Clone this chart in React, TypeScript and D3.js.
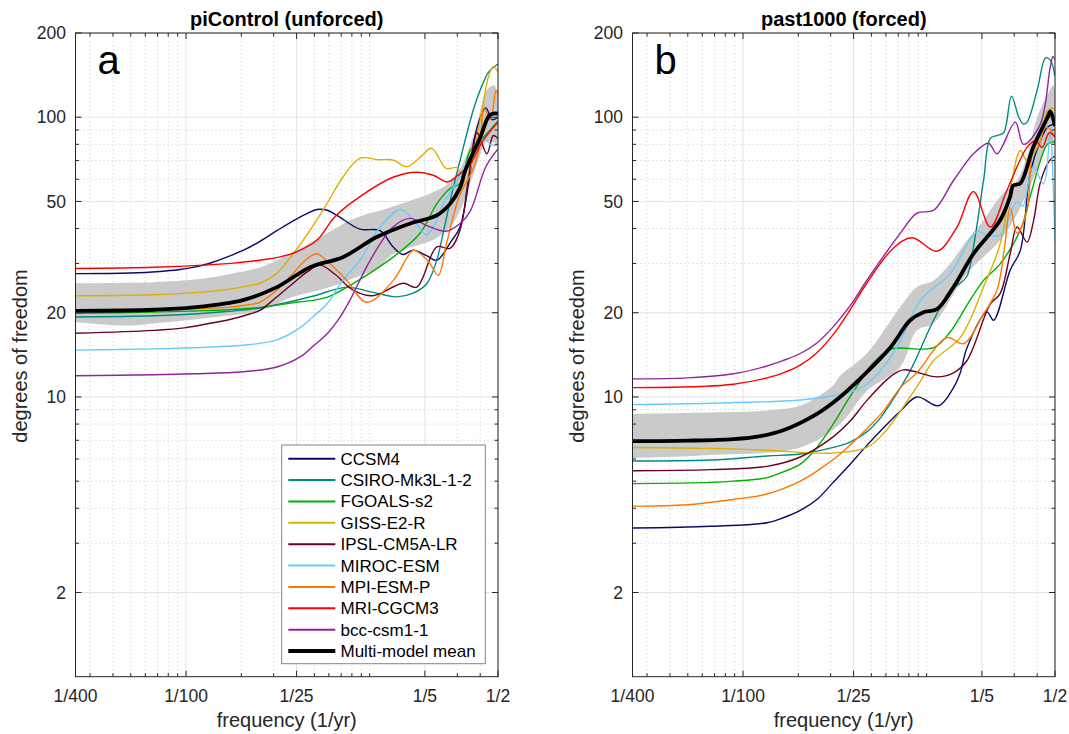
import React from "react";
import * as d3 from "d3";

type P = [number, number]; // [period in years, degrees of freedom]

const models = ["CCSM4", "CSIRO-Mk3L-1-2", "FGOALS-s2", "GISS-E2-R", "IPSL-CM5A-LR", "MIROC-ESM", "MPI-ESM-P", "MRI-CGCM3", "bcc-csm1-1"];
const modelColors = ["#0b0b6e", "#008b80", "#00b000", "#dcb000", "#6e0022", "#66ccff", "#ff7700", "#ff0000", "#9422a0"];

const xTickPeriods = [400, 100, 25, 5, 2];
const xTickLabels = ["1/400", "1/100", "1/25", "1/5", "1/2"];
const yTicks = [2, 10, 20, 50, 100, 200];

// ---- panel a: piControl ----
const ccsm4A: P[] = [[400,27.6],[200,27.75],[139,28.1],[110,28.5],[90,29.1],[75,30],[60,31.6],[48,33.6],[39.6,36],[32,39.3],[26.1,42.6],[22,45.2],[19.4,46.8],[17,46.5],[15,44.5],[11.3,39.8],[8.77,39.3],[7.46,34.4],[6.58,32.3],[5.8,33.5],[4.9,32],[4.31,30.8],[3.6,36],[3.22,40.5],[2.85,62],[2.6,92],[2.33,108],[2.15,98],[2,100]];
const csiroA: P[] = [[400,19.3],[150,19.5],[90,19.8],[60,20.2],[39.6,20.8],[28,21.8],[20,23],[13.3,24.7],[10,23.8],[7.12,22.8],[5.8,23.5],[4.89,25.4],[4.3,31],[3.98,38.5],[3.6,52],[3.22,70],[2.74,105],[2.5,125],[2.25,145],[2,155]];
const fgoalsA: P[] = [[400,19.9],[150,20.1],[90,20.3],[60,20.5],[39.6,20.9],[25,21.8],[17.1,22.7],[12,25.7],[7.46,31.6],[5.33,38.4],[4.31,49],[3.65,55.6],[3.22,58],[2.84,76],[2.43,84],[2,97]];
const gissA: P[] = [[400,23],[150,23.2],[90,23.6],[60,24.2],[45,25],[39.6,25.5],[32,27.7],[26.1,32.5],[21.1,39.5],[17.1,49],[14,61],[11.3,71.3],[9,70.5],[7.46,70.3],[6.28,66.5],[5.3,72],[4.6,77.4],[3.83,65.6],[3.36,66],[3.01,58.7],[2.7,75],[2.45,105],[2.25,140],[2.12,152],[2,145]];
const ipslA: P[] = [[400,16.9],[150,17.3],[100,17.7],[75,18.3],[60,18.8],[45,19.8],[39.6,20.4],[32,22.8],[26.1,25.5],[21.9,28],[18.6,29.6],[15.5,27.5],[12.3,24.1],[9.59,23],[6.58,25.5],[5.54,24.7],[4.31,34.4],[3.65,34],[3.22,39.5],[2.9,60],[2.6,88],[2.3,74],[2.12,86],[2,84]];
const mirocA: P[] = [[400,14.7],[150,14.85],[92,15.0],[49,15.3],[32,16.0],[23.9,17.7],[20.3,19.4],[17.1,21.5],[14,26.1],[11.3,30.8],[8.77,40.5],[6.82,46.7],[5.8,43],[4.89,38],[4.3,43],[3.98,49],[3.4,58],[2.84,72],[2.38,84],[2.2,80],[2,79]];
const mpiA: P[] = [[400,20.4],[150,20.5],[90,20.7],[60,20.9],[45,21.4],[39.6,21.8],[32,24.1],[26.1,27.7],[21.9,31.2],[19.4,32.5],[16.5,30],[13.3,26.1],[10.4,21.8],[7.46,26],[5.8,33.4],[5.3,32.5],[4.7,30],[4.23,27.2],[3.83,35],[3.51,44],[3.22,53],[2.74,65],[2.51,80],[2.38,108],[2.2,98],[2.05,125],[2,120]];
const mriA: P[] = [[400,28.8],[150,29.1],[80,29.6],[55,30.1],[39.6,30.8],[30,31.8],[25,33],[19.4,36.3],[15.5,44],[11.3,52],[7.46,61],[5.54,63.6],[4.5,62],[3.77,58.7],[3.3,62],[2.84,67.8],[2.43,82],[2,96]];
const bccA: P[] = [[400,11.9],[150,12.0],[92,12.1],[49,12.3],[32,12.8],[23.9,13.9],[20.3,15.2],[17.1,16.8],[14.5,19.3],[12.8,22.2],[9.93,30.8],[7.46,40.5],[6.02,43.5],[4.89,41],[3.83,39.1],[3.22,41.7],[2.84,46],[2.33,66.5],[2,77]];
const meanA: P[] = [[400,20.3],[150,20.5],[91.6,20.9],[49,22.2],[32,24.7],[21.1,29.1],[14,31.6],[9.15,37.3],[6.02,41.7],[4.31,44.6],[3.65,49],[3.22,56],[3.01,64.7],[2.51,84],[2.21,102],[2,103]];
const bandUpA: P[] = [[400,25.5],[150,25.7],[80,26.5],[50,28],[39.6,29],[30,31.5],[23.9,34],[17.1,38.5],[12.3,43.3],[7.46,48],[4.31,54.7],[3.5,60],[3,72],[2.6,95],[2.3,125],[2.1,130],[2,120]];
const bandLoA: P[] = [[400,18.5],[300,18.2],[200,18],[150,18.3],[100,18.8],[60,19.5],[39.6,20.3],[26.1,22.8],[17,24.5],[12.3,26.5],[9,29],[7.46,32.4],[4.31,37],[3.5,42],[3,52],[2.6,68],[2.3,82],[2,80]];

// ---- panel b: past1000 ----
const ccsm4B: P[] = [[400,3.4],[150,3.45],[74,3.55],[60.4,3.7],[48.8,3.93],[39.6,4.3],[32.3,4.95],[26.1,5.75],[21.2,6.7],[13.9,8.9],[11.3,10.0],[8.62,9.3],[7.14,10.8],[6.56,12.2],[6.03,15],[4.69,20.1],[4.32,18.8],[3.51,28.4],[3.09,33.4],[2.73,63],[2.41,82],[2.2,92],[2,95]];
const csiroB: P[] = [[400,5.9],[150,5.95],[74,6.15],[48.8,6.25],[32.3,6.6],[26.1,6.9],[21.2,7.5],[17.9,8.4],[15.8,9.45],[12.3,12.4],[9.17,18.8],[7.44,24.1],[6.56,25.5],[6.03,27],[5.56,34.4],[4.9,59.4],[4.5,84],[4.14,86],[3.81,88],[3.45,119],[3.15,100],[2.97,94.5],[2.84,96],[2.5,125],[2.25,163],[2.12,160],[2,140]];
const fgoalsB: P[] = [[400,4.9],[150,4.95],[113,5.0],[74,5.15],[60.4,5.4],[48.8,5.75],[39.6,6.6],[32.3,8.0],[27,9.7],[23,11.4],[20,13],[15.8,14.8],[9.17,15],[7.44,17.1],[6.03,21.3],[4.9,26.1],[3.98,29.9],[3.09,39.5],[2.73,52],[2.4,70],[2.2,80],[2,82]];
const gissB: P[] = [[400,6.6],[150,6.55],[74,6.45],[32.3,6.3],[21.2,6.6],[17.2,7.4],[13.9,8.9],[10.8,11.4],[9.17,13.5],[6.56,16.3],[4.9,24.7],[3.98,35.2],[3.51,55],[3.09,76],[2.84,70],[2.41,82],[2.21,105],[2.05,108],[2,105]];
const ipslB: P[] = [[400,5.45],[150,5.5],[74,5.65],[48.8,6.1],[32.3,7.2],[26.1,8.2],[21.2,9.7],[15.8,11.8],[13.4,12.5],[8.79,11.8],[7.14,12.2],[6.03,13.5],[4.5,21.5],[3.98,23.4],[3.51,32.5],[3.22,40.5],[2.84,35.8],[2.63,42],[2.41,58],[2.2,68],[2.05,72],[2,72]];
const mirocB: P[] = [[400,9.4],[150,9.5],[48.8,9.75],[32.3,10.1],[26.1,10.4],[21.2,11.1],[17.9,12.4],[15.8,13.8],[13.9,15.9],[10.8,22.2],[7.44,27.6],[5.33,38.9],[4.6,37.8],[3.98,37.9],[3.22,50],[3.0,48],[2.63,66.5],[2.31,57.7],[2.12,90],[2.07,70],[2,35.5]];
const mpiB: P[] = [[400,4.07],[200,4.12],[113,4.3],[74,4.5],[48.8,5.0],[37,5.6],[29.6,6.25],[21.2,7.7],[17.2,8.9],[13.9,10.8],[11.3,12.2],[7.75,16.3],[6.3,15.5],[4.9,19.8],[4.14,24.1],[3.75,35],[3.51,47.6],[3.22,38.5],[2.84,46.3],[2.63,76],[2.21,92],[2,85]];
const mriB: P[] = [[400,10.8],[171,10.9],[113,11.1],[74,11.7],[60.4,12.2],[48.8,13.0],[39.6,14.4],[32.3,16.7],[26.1,20.5],[21.2,25.5],[15.2,34],[12,37.1],[8.79,33.2],[6.84,40.5],[5.56,54.2],[4.5,40.5],[3.66,54.7],[2.84,78],[2.55,82.4],[2.35,78],[2.15,88],[2,85]];
const bccB: P[] = [[400,11.6],[200,11.7],[113,12.1],[74,12.9],[60.4,13.5],[48.8,14.3],[39.6,15.6],[32.3,17.8],[26.1,21.2],[21.2,26.1],[13.9,38.5],[11.3,45.4],[9.17,46.5],[7.14,59.4],[5.56,74],[4.6,80.7],[4.14,74],[3.29,96],[2.97,80],[2.41,94],[2.12,152],[2.05,165],[2,160]];
const meanB: P[] = [[400,6.95],[200,6.98],[113,7.07],[80,7.25],[60.4,7.6],[39.6,8.7],[29.6,10],[22.5,11.8],[15.8,15],[12.3,18.8],[10.4,20.1],[8.79,20.6],[7.14,24.7],[5.56,32.5],[3.98,42.8],[3.51,52],[3.38,57],[3.09,58],[2.63,78],[2.21,99],[2.12,105],[2,93]];
const bandUpB: P[] = [[400,8.7],[150,8.8],[74,8.95],[48.8,9.3],[39.6,10],[32.3,11],[29.6,11.9],[21.2,14.3],[13.9,21],[11.3,24.7],[9.17,26.1],[7.44,30],[6.03,36.3],[4.9,42.8],[3.98,52],[3.22,59.4],[2.8,75],[2.5,100],[2.2,120],[2.05,130],[2,125]];
const bandLoB: P[] = [[400,6.05],[150,6.2],[48.8,6.6],[29.6,8.0],[21.2,10.5],[13.9,12.8],[11.3,17.3],[9.17,18.3],[6.03,27.6],[3.98,36.3],[3.22,45],[2.8,55],[2.5,65],[2.2,80],[2,80]];

const seriesA = [ccsm4A, csiroA, fgoalsA, gissA, ipslA, mirocA, mpiA, mriA, bccA];
const seriesB = [ccsm4B, csiroB, fgoalsB, gissB, ipslB, mirocB, mpiB, mriB, bccB];

const W = 1069, H = 734;
const TOP = 33, BOTTOM = 676.7, PW = 422.5;
const FONT = "'Liberation Sans', Arial, Helvetica, sans-serif";
const AX = "#262626";

interface PanelDef { left: number; title: string; letter: string; series: P[][]; mean: P[]; up: P[]; lo: P[]; legend: boolean; id: string; }

const panels: PanelDef[] = [
  { left: 75.5, title: "piControl (unforced)", letter: "a", series: seriesA, mean: meanA, up: bandUpA, lo: bandLoA, legend: true, id: "a" },
  { left: 632.5, title: "past1000 (forced)", letter: "b", series: seriesB, mean: meanB, up: bandUpB, lo: bandLoB, legend: false, id: "b" },
];

function Panel({ p }: { p: PanelDef }) {
  const x = d3.scaleLog().domain([1 / 400, 1 / 2]).range([p.left, p.left + PW]);
  const y = d3.scaleLog().domain([1, 200]).range([BOTTOM, TOP]);
  const right = p.left + PW;
  const cx = p.left + PW / 2;
  const line = d3.line<P>().x(d => x(1 / d[0])).y(d => y(d[1])).curve(d3.curveCatmullRom.alpha(0.5));
  const upPath = line(p.up) || "";
  const loPath = line([...p.lo].reverse()) || "";
  const bandPath = upPath + "L" + loPath.slice(1) + "Z";

  const majorF = xTickPeriods.map(v => 1 / v);
  const isMajorF = (f: number) => majorF.some(m => Math.abs(Math.log(m / f)) < 1e-6);
  const minorF = x.ticks().filter(f => !isMajorF(f) && f > 1 / 400 && f < 1 / 2);
  const minorY = y.ticks().filter(v => v > 2 && !yTicks.includes(v));

  const ML = 6, mL = 3.5;
  return (
    <g>
      <defs>
        <clipPath id={"clip" + p.id}>
          <rect x={p.left} y={TOP} width={PW} height={BOTTOM - TOP} />
        </clipPath>
      </defs>
      {minorF.map((f, i) => (
        <line key={"mgx" + i} x1={x(f)} x2={x(f)} y1={TOP} y2={BOTTOM} stroke="#bdbdbd" strokeWidth={0.8} strokeDasharray="1,3" />
      ))}
      {minorY.map((v, i) => (
        <line key={"mgy" + i} x1={p.left} x2={right} y1={y(v)} y2={y(v)} stroke="#bdbdbd" strokeWidth={0.8} strokeDasharray="1,3" />
      ))}
      {majorF.map((f, i) => (
        <line key={"gx" + i} x1={x(f)} x2={x(f)} y1={TOP} y2={BOTTOM} stroke="#e3e3e3" strokeWidth={1} />
      ))}
      {yTicks.map((v, i) => (
        <line key={"gy" + i} x1={p.left} x2={right} y1={y(v)} y2={y(v)} stroke="#e3e3e3" strokeWidth={1} />
      ))}
      <g clipPath={`url(#clip${p.id})`}>
        <path d={bandPath} fill="#cacaca" stroke="none" />
        {p.series.map((s, i) => (
          <path key={"s" + i} d={line(s) || ""} fill="none" stroke={modelColors[i]} strokeWidth={1.4} />
        ))}
        <path d={line(p.mean) || ""} fill="none" stroke="#000" strokeWidth={3.8} strokeLinejoin="round" />
      </g>
      <rect x={p.left} y={TOP} width={PW} height={BOTTOM - TOP} fill="none" stroke={AX} strokeWidth={1} />
      {majorF.map((f, i) => (
        <g key={"tx" + i}>
          <line x1={x(f)} x2={x(f)} y1={BOTTOM} y2={BOTTOM - ML} stroke={AX} />
          <line x1={x(f)} x2={x(f)} y1={TOP} y2={TOP + ML} stroke={AX} />
          <text x={x(f)} y={702} textAnchor="middle" fontSize={17.5} fill={AX} fontFamily={FONT}>{xTickLabels[i]}</text>
        </g>
      ))}
      {minorF.map((f, i) => (
        <g key={"mtx" + i}>
          <line x1={x(f)} x2={x(f)} y1={BOTTOM} y2={BOTTOM - mL} stroke={AX} />
          <line x1={x(f)} x2={x(f)} y1={TOP} y2={TOP + mL} stroke={AX} />
        </g>
      ))}
      {yTicks.map((v, i) => (
        <g key={"ty" + i}>
          <line x1={p.left} x2={p.left + ML} y1={y(v)} y2={y(v)} stroke={AX} />
          <line x1={right} x2={right - ML} y1={y(v)} y2={y(v)} stroke={AX} />
          <text x={p.left - 9.5} y={y(v) + 6.2} textAnchor="end" fontSize={17.5} fill={AX} fontFamily={FONT}>{String(v)}</text>
        </g>
      ))}
      {minorY.map((v, i) => (
        <g key={"mty" + i}>
          <line x1={p.left} x2={p.left + mL} y1={y(v)} y2={y(v)} stroke={AX} />
          <line x1={right} x2={right - mL} y1={y(v)} y2={y(v)} stroke={AX} />
        </g>
      ))}
      <text x={cx} y={26} textAnchor="middle" fontSize={20} fontWeight="bold" fill="#000" fontFamily={FONT}>{p.title}</text>
      <text x={p.left + 22} y={74} fontSize={40} fill="#000" fontFamily={FONT}>{p.letter}</text>
      <text x={cx} y={727} textAnchor="middle" fontSize={20} fill={AX} fontFamily={FONT}>frequency (1/yr)</text>
      <text transform={`translate(${p.left - 48.5},356) rotate(-90)`} textAnchor="middle" fontSize={20} fill={AX} fontFamily={FONT}>degrees of freedom</text>
      {p.legend && <Legend />}
    </g>
  );
}

function Legend() {
  const lx = 281.7, ly = 445, lw = 203.6, lh = 218.7;
  const names = [...models, "Multi-model mean"];
  const cols = [...modelColors, "#000"];
  return (
    <g>
      <rect x={lx} y={ly} width={lw} height={lh} fill="#fff" stroke="#858585" strokeWidth={1} />
      {names.map((n, i) => {
        const yy = 458.7 + i * 21.37;
        const last = i === names.length - 1;
        return (
          <g key={n}>
            <line x1={288.3} x2={335.3} y1={yy} y2={yy} stroke={cols[i]} strokeWidth={last ? 4 : 2} />
            <text x={340.5} y={yy + 6} fontSize={17} fill="#000" fontFamily={FONT}>{n}</text>
          </g>
        );
      })}
    </g>
  );
}

export default function App() {
  return (
    <svg width={W} height={H} viewBox={`0 0 ${W} ${H}`} style={{ position: "absolute", left: 0, top: 0, background: "#fff" }}>
      <rect x={0} y={0} width={W} height={H} fill="#fff" />
      {panels.map(p => <Panel key={p.id} p={p} />)}
    </svg>
  );
}
